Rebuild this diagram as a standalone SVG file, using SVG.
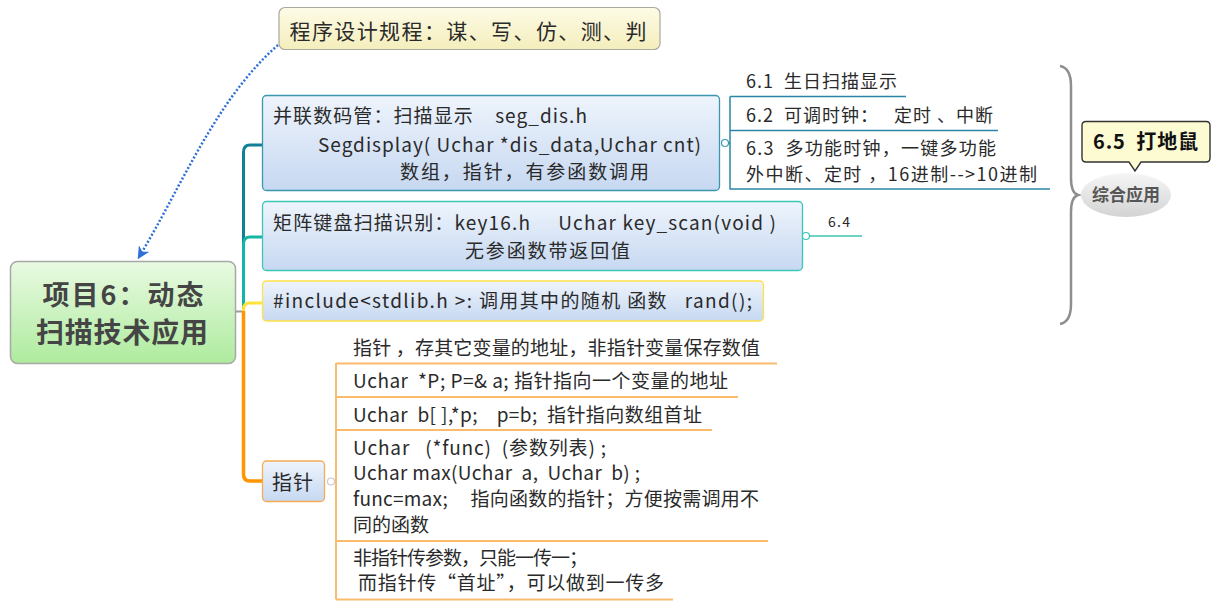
<svg xmlns="http://www.w3.org/2000/svg" width="1230" height="611" viewBox="0 0 1230 611">
<defs>
<linearGradient id="gBlue" x1="0" y1="0" x2="0" y2="1"><stop offset="0" stop-color="#eef4fc"/><stop offset="1" stop-color="#c6d8f1"/></linearGradient>
<linearGradient id="gGreen" x1="0" y1="0" x2="0" y2="1"><stop offset="0" stop-color="#e9fae2"/><stop offset="1" stop-color="#aeeb9e"/></linearGradient>
<linearGradient id="gYellow" x1="0" y1="0" x2="0" y2="1"><stop offset="0" stop-color="#fdfbe6"/><stop offset="1" stop-color="#f4eebc"/></linearGradient>
<linearGradient id="gGrey" x1="0" y1="0" x2="0" y2="1"><stop offset="0" stop-color="#f6f6f6"/><stop offset="1" stop-color="#d3d3d3"/></linearGradient>
<marker id="arr" viewBox="0 0 10 10" refX="8" refY="5" markerWidth="5" markerHeight="5" orient="auto-start-reverse"><path d="M0,0 L10,5 L0,10 L3,5 z" fill="#2e6fd8"/></marker>
</defs>
<style>
text{font-family:"Noto Sans CJK SC","Noto Sans",sans-serif;fill:#2a2a2a;white-space:pre;}
.t19{font-size:19px;}
.t18{font-size:18px;}
.box{fill:url(#gBlue);stroke-width:1.3;}
.knob{fill:#fff;stroke-width:1.2;}
</style>

<g id="connectors" fill="none">
<path d="M278,45 C215,100 180,190 139,257" stroke="#2e6fd8" stroke-width="2.5" stroke-dasharray="2 2" marker-end="url(#arr)"/>
<line x1="235" y1="311.5" x2="243" y2="311.5" stroke="#9a9a9a" stroke-width="2"/>
<path d="M243.5,311 V152 Q243.5,145 250,145 H262" stroke="#117f96" stroke-width="3"/>
<path d="M243.5,311 V244 Q243.5,237 250,237 H262" stroke="#15b5a5" stroke-width="3"/>
<path d="M243.5,311 V309 Q243.5,303 250,303 H262" stroke="#ffe23c" stroke-width="3"/>
<path d="M243.5,311 V474 Q243.5,481 250,481 H262" stroke="#ff9500" stroke-width="3.5"/>
<g stroke="#2a86a6" stroke-width="1.5">
<path d="M729,143 H730 M730,96.5 V189.5 M730,96.5 H906 M730,130.5 H998 M730,189 H1050"/>
</g>
<line x1="809" y1="236" x2="862" y2="236" stroke="#6fd3c6" stroke-width="2"/>
<g stroke="#fbbb6c" stroke-width="2">
<path d="M334,481.5 H336 M336,363 V599.5 M336,363.5 H777 M336,397 H738 M336,430 H712 M336,541 H768 M336,599.5 H673"/>
</g>
<path d="M1060,66 Q1071,68 1071,86 V178 Q1071,193 1078,195 Q1071,197 1071,212 V304 Q1071,322 1060,324" stroke="#8e8e8e" stroke-width="2.5"/>
</g>

<g id="top-note">
<rect x="279" y="7.5" width="381" height="42" rx="6" fill="url(#gYellow)" stroke="#a9a9a0" stroke-width="1.2"/>
<text x="289.5" y="39" style="font-size:21px" textLength="357">程序设计规程：谋、写、仿、测、判</text>
</g>

<g id="root">
<rect x="10.5" y="261.5" width="225" height="102" rx="7" fill="url(#gGreen)" stroke="#a8a8a8" stroke-width="1.5"/>
<text x="42.5" y="305" style="font-size:27px;font-weight:bold;fill:#454545" textLength="161">项目6：动态</text>
<text x="36" y="343" style="font-size:28px;font-weight:bold;fill:#454545" textLength="172">扫描技术应用</text>
</g>

<g id="node1">
<rect x="262.5" y="95.5" width="457" height="95" rx="4" class="box" stroke="#3a97ad"/>
<text class="t19" x="273" y="122.5" textLength="314">并联数码管：扫描显示    seg_dis.h</text>
<text class="t19" x="318" y="151.5" textLength="383">Segdisplay( Uchar *dis_data,Uchar cnt)</text>
<text class="t19" x="400" y="179" textLength="249">数组，指针，有参函数调用</text>
<circle cx="725" cy="143" r="3.5" class="knob" stroke="#3a97ad"/>
</g>

<g id="node1-1"><text class="t18" x="746" y="88" textLength="151">6.1  生日扫描显示</text></g>
<g id="node1-2"><text class="t18" x="746" y="121.5" textLength="247">6.2  可调时钟：   定时 、中断</text></g>
<g id="node1-3">
<text class="t18" x="746" y="155" textLength="250">6.3  多功能时钟，一键多功能</text>
<text class="t18" x="746" y="181" textLength="291">外中断、定时 ，16进制--&gt;10进制</text>
</g>

<g id="node2">
<rect x="262.5" y="201.5" width="540" height="69" rx="4" class="box" stroke="#3cc6b6"/>
<text class="t19" x="273" y="230" textLength="503">矩阵键盘扫描识别：key16.h     Uchar key_scan(void )</text>
<text class="t19" x="465" y="258" textLength="165">无参函数带返回值</text>
<circle cx="806" cy="236" r="3.5" class="knob" stroke="#3cc6b6"/>
</g>

<g id="node2-1"><text x="828" y="227" style="font-size:14px" textLength="22">6.4</text></g>

<g id="node3">
<rect x="262.5" y="281" width="501" height="40" rx="4" class="box" stroke="#ffe14a"/>
<text class="t19" x="273" y="307.5" textLength="479">#include&lt;stdlib.h &gt;: 调用其中的随机 函数   rand();</text>
</g>

<g id="node4">
<rect x="262.5" y="461" width="62" height="40.5" rx="4" class="box" stroke="#f7ab52"/>
<text x="272" y="489.5" style="font-size:20px" textLength="41">指针</text>
<circle cx="331" cy="481.5" r="3.5" class="knob" stroke="#c8c8d8"/>
</g>

<g id="node4-1"><text class="t19" x="353" y="354.5" textLength="407">指针 ，存其它变量的地址，非指针变量保存数值</text></g>
<g id="node4-2"><text class="t19" x="353" y="388" textLength="375">Uchar  *P; P=&amp; a; 指针指向一个变量的地址</text></g>
<g id="node4-3"><text class="t19" x="353" y="421.5" textLength="349">Uchar  b[ ],*p;    p=b;  指针指向数组首址</text></g>
<g id="node4-4">
<text class="t19" x="353" y="455" textLength="253">Uchar   (*func)  (参数列表) ;</text>
<text class="t19" x="353" y="480" textLength="287">Uchar max(Uchar  a,  Uchar  b) ;</text>
<text class="t19" x="353" y="505.5" textLength="406">func=max;     指向函数的指针；方便按需调用不</text>
<text class="t19" x="353" y="531.5" textLength="76">同的函数</text>
</g>
<g id="node4-5">
<text class="t19" x="353" y="564.5" textLength="235">非指针传参数，只能一传一；</text>
<text class="t19" x="353" y="590" textLength="311"> 而指针传“首址”，可以做到一传多</text>
</g>

<g id="summary">
<ellipse cx="1126" cy="195" rx="45" ry="22" fill="url(#gGrey)"/>
<text x="1092" y="201" style="font-size:17px;font-weight:bold;fill:#555" textLength="68">综合应用</text>
</g>

<g id="callout">
<path d="M1086,121.5 H1206 Q1210,121.5 1210,125.5 V158 Q1210,162 1206,162 H1141 L1135,171 L1129,162 H1086 Q1082,162 1082,158 V125.5 Q1082,121.5 1086,121.5 Z" fill="#fdfbd2" stroke="#333" stroke-width="1.4"/>
<text x="1093" y="149" style="font-size:20px;font-weight:bold;fill:#111" textLength="105">6.5  打地鼠</text>
</g>
</svg>
